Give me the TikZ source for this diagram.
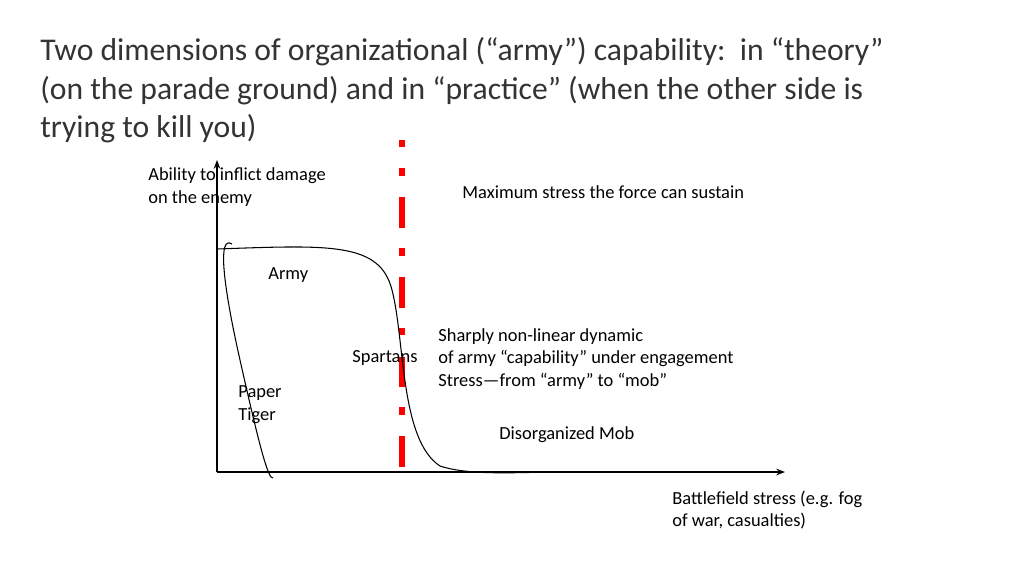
\documentclass[tikz,border=0pt]{standalone}
\usepackage{fontspec}
\setmainfont{Carlito}
\usetikzlibrary{arrows.meta}
\tikzset{lbl/.style={anchor=west,inner sep=0pt,font=\fontsize{10.5pt}{13pt}\selectfont,align=left},
  ttl/.style={anchor=west,inner sep=0pt,text=black!80,font=\fontsize{18pt}{21pt}\selectfont},
  axis/.style={line width=0.6pt,-{Stealth[length=5pt]}},
  curve/.style={line width=0.6pt},
  maxline/.style={red,line width=3.4pt}}
\begin{document}
\begin{tikzpicture}[x=0.02cm,y=-0.02cm]
\useasboundingbox (0,0) rectangle (1024,576);
% title
\node[ttl] (t1) at (40,52) {Two dimensions of organizational (“army”) capability:\ \ in “theory”};
\node[ttl] (t2) at (40,91) {(on the parade ground) and in “practice” (when the other side is};
\node[ttl] (t3) at (40,129) {trying to kill you)};
% axes
\coordinate (o) at (217,472);
\coordinate (ytop) at (217,160);
\coordinate (xend) at (785,472);
\draw[axis] (o) -- (ytop);
\draw[axis] (o) -- (xend);
% maximum stress line
\coordinate (ms0) at (402,140);
\coordinate (ms1) at (402,147);
\coordinate (ms2) at (402,168);
\coordinate (ms3) at (402,472);
\draw[maxline] (ms0) -- (ms1);
\draw[maxline,dash pattern=on 4.5pt off 12pt on 17.6pt off 11.3pt] (ms2) -- (ms3);
% curves
\draw[curve] (217,249) .. controls (330,245) and (380,242) .. (392,290)
  .. controls (405,340) and (400,440) .. (440,466)
  .. controls (470,476) and (520,472) .. (560,472);
\draw[curve] (232,244) .. controls (218,235) and (222,280) .. (240,360)
  .. controls (258,440) and (268,480) .. (273,478);
% labels
\node[lbl] (ylab) at (148,187) {Ability to inflict damage\\on the enemy};
\node[lbl] (mslab) at (462,192) {Maximum stress the force can sustain};
\node[lbl] (army) at (268,275) {Army};
\node[lbl] (sharp) at (438,359) {Sharply non-linear dynamic\\of army “capability” under engagement\\Stress—from “army” to “mob”};
\node[lbl] (sparta) at (352,358) {Spartans};
\node[lbl] (paper) at (238,405) {Paper\\Tiger};
\node[lbl] (mob) at (499,435) {Disorganized Mob};
\node[lbl] (xlab) at (672,510) {Battlefield stress (e.g. fog\\of war, casualties)};
\end{tikzpicture}
\end{document}
